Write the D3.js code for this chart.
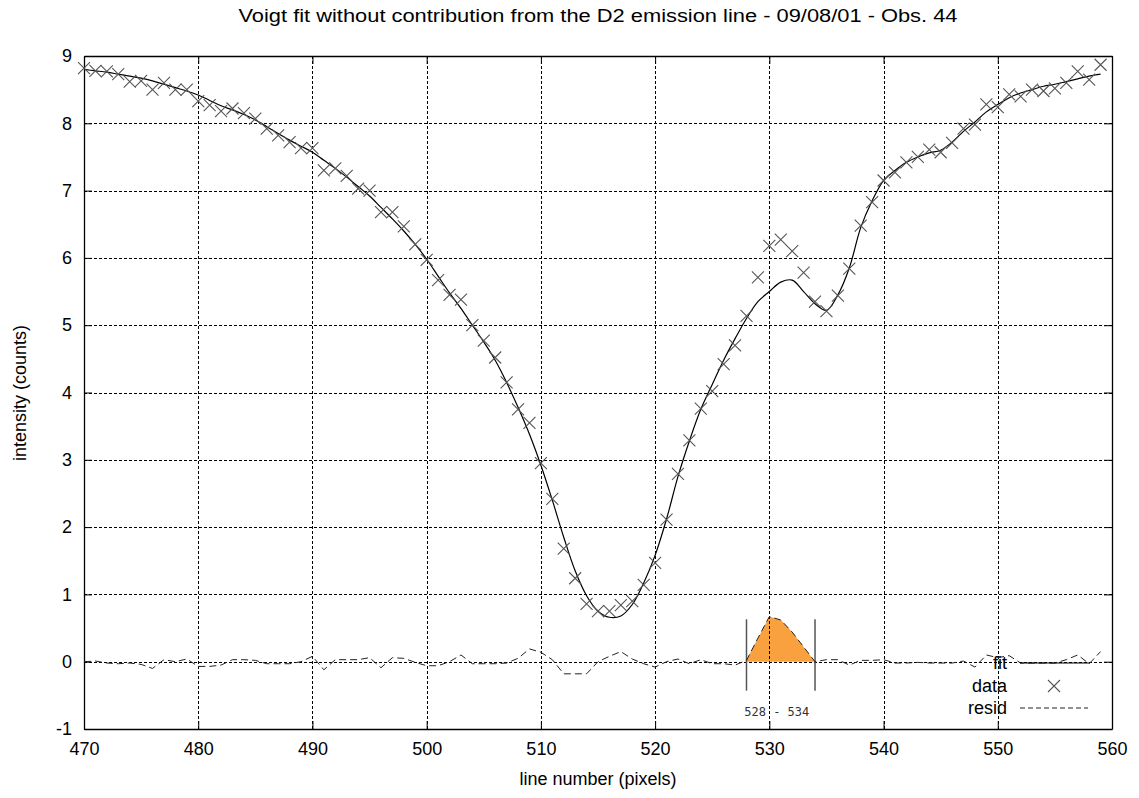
<!DOCTYPE html>
<html>
<head>
<meta charset="utf-8">
<script src="https://cdn.jsdelivr.net/npm/d3@7"></script>
<style>
  body { margin: 0; background: #fff; }
  svg { display: block; font-family: "Liberation Sans", Arial, sans-serif; }
</style>
</head>
<body>
<svg id="chart" width="1139" height="798"></svg>
<script>
var pixels = d3.range(470, 560);
var dataValues = [
  8.82, 8.78, 8.77, 8.73, 8.62, 8.63, 8.50, 8.60, 8.50, 8.50,
  8.33, 8.27, 8.18, 8.22, 8.15, 8.07, 7.92, 7.82, 7.72, 7.63,
  7.63, 7.30, 7.33, 7.22, 7.03, 7.00, 6.68, 6.68, 6.47, 6.20,
  5.97, 5.67, 5.45, 5.38, 5.00, 4.77, 4.52, 4.15, 3.75, 3.55,
  2.95, 2.42, 1.68, 1.24, 0.86, 0.75, 0.75, 0.84, 0.90, 1.14,
  1.47, 2.11, 2.79, 3.29, 3.76, 4.02, 4.42, 4.70, 5.14, 5.71,
  6.18, 6.27, 6.10, 5.78, 5.35, 5.21, 5.44, 5.84, 6.48, 6.83,
  7.15, 7.27, 7.42, 7.50, 7.61, 7.57, 7.71, 7.92, 7.98, 8.28,
  8.24, 8.43, 8.40, 8.50, 8.48, 8.52, 8.60, 8.77, 8.65, 8.87
];
var fitValues = [
  8.80, 8.78, 8.76, 8.73, 8.70, 8.67, 8.63, 8.58, 8.53, 8.48,
  8.42, 8.34, 8.26, 8.20, 8.13, 8.05, 7.95, 7.85, 7.75, 7.66,
  7.57, 7.45, 7.33, 7.20, 7.06, 6.92, 6.75, 6.58, 6.40, 6.20,
  5.98, 5.73, 5.48, 5.25, 5.00, 4.75, 4.48, 4.15, 3.78, 3.38,
  2.92, 2.40, 1.85, 1.35, 0.98, 0.75, 0.66, 0.68, 0.85, 1.17,
  1.58, 2.12, 2.75, 3.28, 3.75, 4.12, 4.48, 4.80, 5.10, 5.35,
  5.50, 5.64, 5.67, 5.50, 5.32, 5.22, 5.45, 5.85, 6.45, 6.85,
  7.15, 7.30, 7.42, 7.50, 7.56, 7.60, 7.72, 7.88, 8.02, 8.17,
  8.28, 8.38, 8.45, 8.50, 8.55, 8.58, 8.62, 8.66, 8.70, 8.73
];
var residValues = [
  0.00, 0.01, -0.02, -0.03, -0.02, -0.04, -0.10, 0.03, 0.00, 0.04,
  -0.07, -0.07, -0.05, 0.03, 0.03, 0.02, -0.03, -0.03, -0.03, 0.00,
  0.08, -0.12, 0.03, 0.03, 0.03, 0.06, -0.09, 0.06, 0.05, -0.01,
  -0.06, -0.06, 0.00, 0.10, -0.03, -0.03, -0.03, -0.02, 0.05, 0.19,
  0.14, 0.03, -0.18, -0.18, -0.18, 0.00, 0.08, 0.15, 0.04, -0.03,
  -0.08, 0.00, 0.04, -0.03, 0.03, -0.03, -0.03, -0.05, 0.02, 0.35,
  0.67, 0.62, 0.44, 0.22, 0.00, 0.03, 0.03, -0.05, 0.02, 0.02,
  0.03, -0.02, -0.02, -0.01, -0.02, -0.02, -0.02, 0.01, -0.08, 0.10,
  0.06, 0.09, -0.02, -0.02, -0.02, -0.02, 0.03, 0.10, -0.03, 0.15
];
var emissionRange = [528, 534];
var xTicks = d3.range(470, 561, 10);
var yTicks = d3.range(-1, 10, 1);
var legendLabels = ["fit", "data", "resid"];

var svg = d3.select("#chart");
var x = d3.scaleLinear().domain([470, 560]).range([84, 1112]);
var y = d3.scaleLinear().domain([-1, 9]).range([729, 56]);

var points = pixels.map(function(p, i) {
  return { p: p, data: dataValues[i], fit: fitValues[i], resid: residValues[i] };
});

svg.append("rect").attr("width", 1139).attr("height", 798).attr("fill", "#fff");

// orange area: residual inside the emission window
var inWindow = points.filter(function(d) {
  return d.p >= emissionRange[0] && d.p <= emissionRange[1];
});
svg
  .append("path")
  .datum(inWindow)
  .attr("fill", "#f9a03f")
  .attr(
    "d",
    d3
      .area()
      .x(function(d) { return x(d.p); })
      .y0(y(0))
      .y1(function(d) { return y(Math.max(0, d.resid)); })
  );

// grid
var grid = svg.append("g").attr("stroke", "#000").attr("stroke-width", 1).attr("stroke-dasharray", "3,2");
grid
  .selectAll("line.gx")
  .data(xTicks.slice(1, -1))
  .enter()
  .append("line")
  .attr("x1", function(d) { return Math.round(x(d)) + 0.5; })
  .attr("x2", function(d) { return Math.round(x(d)) + 0.5; })
  .attr("y1", y(9))
  .attr("y2", y(-1));
grid
  .selectAll("line.gy")
  .data(yTicks.slice(1, -1))
  .enter()
  .append("line")
  .attr("y1", function(d) { return Math.round(y(d)) + 0.5; })
  .attr("y2", function(d) { return Math.round(y(d)) + 0.5; })
  .attr("x1", x(470))
  .attr("x2", x(560));

// axes with inward ticks
var plain = function(d) { return String(d); };
var axisBottomG = svg
  .append("g")
  .attr("transform", "translate(0," + y(-1) + ")")
  .call(d3.axisBottom(x).tickValues(xTicks).tickFormat(plain).tickSizeInner(-8).tickSizeOuter(0).tickPadding(10));
var axisTopG = svg
  .append("g")
  .attr("transform", "translate(0," + y(9) + ")")
  .call(d3.axisTop(x).tickValues(xTicks).tickSizeInner(-8).tickSizeOuter(0).tickFormat(""));
var axisLeftG = svg
  .append("g")
  .attr("transform", "translate(" + x(470) + ",0)")
  .call(d3.axisLeft(y).tickValues(yTicks).tickFormat(plain).tickSizeInner(-8).tickSizeOuter(0).tickPadding(12));
var axisRightG = svg
  .append("g")
  .attr("transform", "translate(" + x(560) + ",0)")
  .call(d3.axisRight(y).tickValues(yTicks).tickSizeInner(-8).tickSizeOuter(0).tickFormat(""));
[axisBottomG, axisTopG, axisLeftG, axisRightG].forEach(function(g) {
  g.selectAll("path").attr("stroke", "#000").attr("stroke-width", 1.3);
  g.selectAll("line").attr("stroke", "#000");
  g.selectAll("text").attr("font-size", 18).attr("fill", "#000").attr("font-family", "Liberation Sans, Arial, sans-serif");
});
axisBottomG.selectAll("text").attr("dy", "0.9em");

// emission window markers
svg
  .append("g")
  .selectAll("line")
  .data(emissionRange)
  .enter()
  .append("line")
  .attr("x1", function(d) { return x(d); })
  .attr("x2", function(d) { return x(d); })
  .attr("y1", y(0.63))
  .attr("y2", y(-0.43))
  .attr("stroke", "#555")
  .attr("stroke-width", 1.5);
svg
  .append("text")
  .attr("x", x((emissionRange[0] + emissionRange[1]) / 2) - 4)
  .attr("y", 716)
  .attr("text-anchor", "middle")
  .attr("font-family", "DejaVu Sans Mono, monospace")
  .attr("font-size", 12)
  .attr("fill", "#333")
  .text(emissionRange[0] + " - " + emissionRange[1]);

// residual
svg
  .append("path")
  .datum(points)
  .attr("fill", "none")
  .attr("stroke", "#222")
  .attr("stroke-width", 1)
  .attr("stroke-dasharray", "7,4")
  .attr(
    "d",
    d3.line().x(function(d) { return x(d.p); }).y(function(d) { return y(d.resid); })
  );

// fit
svg
  .append("path")
  .datum(points)
  .attr("fill", "none")
  .attr("stroke", "#000")
  .attr("stroke-width", 1.2)
  .attr(
    "d",
    d3
      .line()
      .x(function(d) { return x(d.p); })
      .y(function(d) { return y(d.fit); })
      .curve(d3.curveCatmullRom)
  );

// data crosses
var cross = function(cx, cy, r) {
  return "M" + (cx - r) + "," + (cy - r) + "L" + (cx + r) + "," + (cy + r) +
    "M" + (cx - r) + "," + (cy + r) + "L" + (cx + r) + "," + (cy - r);
};
svg
  .append("g")
  .selectAll("path")
  .data(points)
  .enter()
  .append("path")
  .attr("d", function(d) { return cross(x(d.p), y(d.data), 6); })
  .attr("stroke", "#555")
  .attr("stroke-width", 1.1)
  .attr("fill", "none");

// legend
var legend = svg.append("g");
var rowY = [663, 686, 708];
legend
  .selectAll("text")
  .data(legendLabels)
  .enter()
  .append("text")
  .attr("x", 1007)
  .attr("y", function(d, i) { return rowY[i]; })
  .attr("dy", "0.35em")
  .attr("text-anchor", "end")
  .attr("font-size", 18)
  .text(function(d) { return d; });
legend.append("line").attr("x1", 1020).attr("x2", 1090).attr("y1", rowY[0]).attr("y2", rowY[0]).attr("stroke", "#000");
legend.append("path").attr("d", cross(1054, rowY[1], 6)).attr("stroke", "#555").attr("stroke-width", 1.1);
legend
  .append("line")
  .attr("x1", 1020)
  .attr("x2", 1088)
  .attr("y1", rowY[2])
  .attr("y2", rowY[2])
  .attr("stroke", "#222")
  .attr("stroke-dasharray", "5,3");

// titles
svg
  .append("text")
  .attr("x", 598)
  .attr("y", 22)
  .attr("text-anchor", "middle")
  .attr("font-size", 18)
  .attr("textLength", 719)
  .attr("lengthAdjust", "spacingAndGlyphs")
  .text("Voigt fit without contribution from the D2 emission line - 09/08/01 - Obs. 44");
svg
  .append("text")
  .attr("x", 598)
  .attr("y", 785)
  .attr("text-anchor", "middle")
  .attr("font-size", 18)
  .text("line number (pixels)");
svg
  .append("text")
  .attr("transform", "translate(26,393) rotate(-90)")
  .attr("text-anchor", "middle")
  .attr("font-size", 18)
  .text("intensity (counts)");
</script>
</body>
</html>
